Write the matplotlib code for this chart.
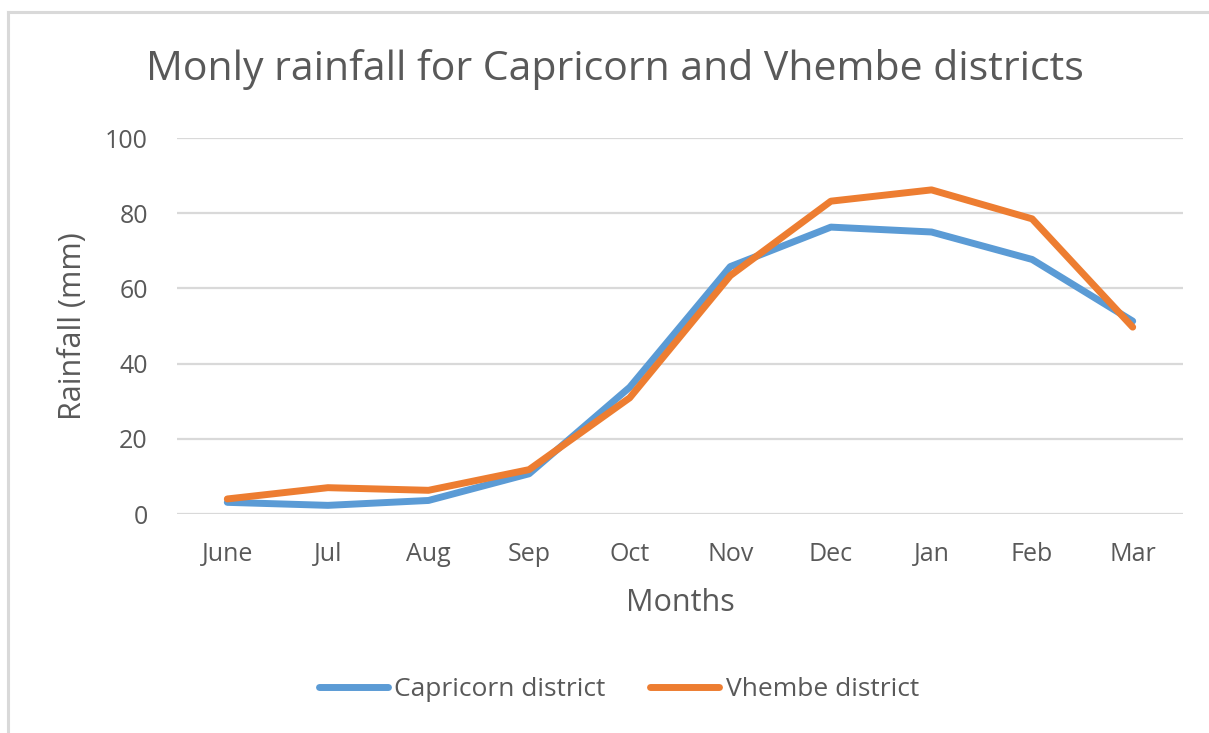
import matplotlib
matplotlib.use("Agg")
import matplotlib.pyplot as plt
from matplotlib.lines import Line2D

months = ["June", "Jul", "Aug", "Sep", "Oct", "Nov", "Dec", "Jan", "Feb", "Mar"]
capricorn = [3.1, 2.3, 3.6, 10.7, 33.7, 65.8, 76.3, 75.0, 67.7, 51.3]
vhembe = [4.0, 7.0, 6.3, 11.8, 30.9, 63.4, 83.2, 86.2, 78.5, 49.7]
yticks = [0, 20, 40, 60, 80, 100]

BLUE = "#5B9BD5"
ORANGE = "#ED7D31"
TXT = "#595959"
GRID = "#D9D9D9"
FONT = "Open Sans"

plt.rcParams["font.family"] = [FONT, "DejaVu Sans"]

W, H = 1209, 733
fig = plt.figure(figsize=(W / 100, H / 100), dpi=100)
fig.patch.set_facecolor("white")

# chart border (top and left visible)
fig.add_artist(Line2D([8 / W, 1.0], [1 - 12 / H, 1 - 12 / H], color=GRID, lw=2.2, transform=fig.transFigure))
fig.add_artist(Line2D([8 / W, 8 / W], [0.0, 1 - 12 / H], color=GRID, lw=2.2, transform=fig.transFigure))

left, right = 177 / W, 1183 / W
top, bottom = 1 - 138 / H, 1 - 514 / H
ax = fig.add_axes([left, bottom, right - left, top - bottom])

x = list(range(len(months)))
ax.plot(x, capricorn, color=BLUE, lw=5, solid_capstyle="round", solid_joinstyle="round",
        label="Capricorn district", zorder=3)
ax.plot(x, vhembe, color=ORANGE, lw=5, solid_capstyle="round", solid_joinstyle="round",
        label="Vhembe district", zorder=4)

ax.set_xlim(-0.5, len(months) - 0.5)
ax.set_ylim(0, 100)
ax.set_yticks(yticks)
ax.set_xticks(x)
ax.set_xticklabels(months)
for s in ax.spines.values():
    s.set_visible(False)
ax.grid(axis="y", color=GRID, lw=1.6)
ax.set_axisbelow(True)
ax.tick_params(axis="both", length=0, labelsize=18, labelcolor=TXT)
ax.tick_params(axis="y", pad=21)
ax.tick_params(axis="x", pad=20)

ax.set_xlabel("Months", fontsize=22, color=TXT, va="center")
ax.xaxis.set_label_coords(0.5, (514 - 603) / (514 - 138), transform=ax.transAxes)
ax.set_ylabel("Rainfall (mm)", fontsize=22, color=TXT, va="center", ha="center")
ax.yaxis.set_label_coords((73 - 177) / (1183 - 177), 0.5, transform=ax.transAxes)

fig.text(615 / W, 1 - 70 / H, "Monly rainfall for Capricorn and Vhembe districts",
         ha="center", va="center", fontsize=29.5, color=TXT)

leg = fig.legend(loc="center", bbox_to_anchor=(619 / W, 1 - 690 / H), ncol=2, frameon=False,
                 fontsize=19, handlelength=2.6, handletextpad=0.25, columnspacing=1.7)
for t in leg.get_texts():
    t.set_color(TXT)
for h in leg.legend_handles:
    h.set_linewidth(5)
    h.set_solid_capstyle("round")

fig.savefig("out.png", dpi=100, facecolor="white")
